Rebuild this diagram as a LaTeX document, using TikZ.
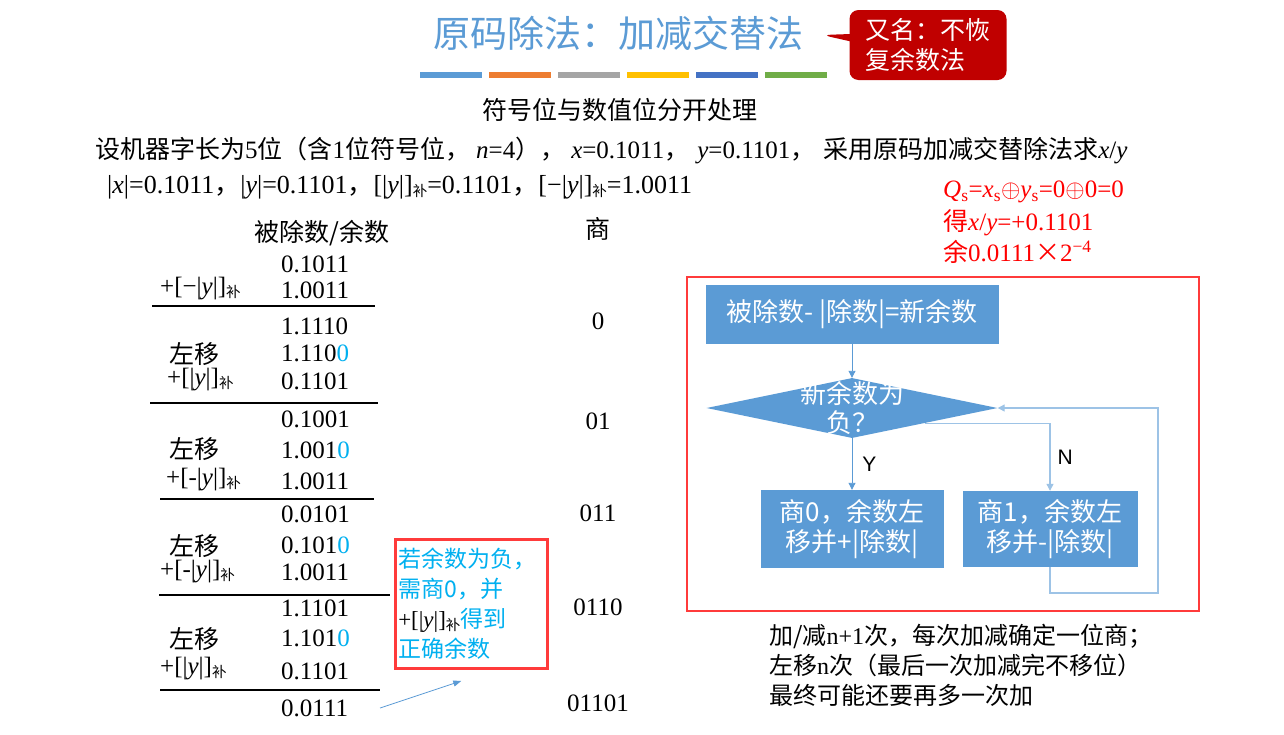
\documentclass[tikz,border=0pt]{standalone}
\usepackage{fontspec}
\setmainfont{Liberation Serif}
\newfontfamily\cjk{Noto Sans CJK SC}
\newfontfamily\lsans{Liberation Sans}
\usetikzlibrary{arrows.meta,shapes.geometric,shapes.callouts,calc}
\definecolor{tblue}{HTML}{5B9BD5}
\definecolor{torange}{HTML}{ED7D31}
\definecolor{tgray}{HTML}{A5A5A5}
\definecolor{tgold}{HTML}{FFC000}
\definecolor{tdblue}{HTML}{4472C4}
\definecolor{tgreen}{HTML}{70AD47}
\definecolor{dred}{HTML}{C00000}
\definecolor{fred}{HTML}{FF3B3B}
\definecolor{cyanb}{HTML}{00B0F0}
\definecolor{lblue}{HTML}{9DC3E6}
\newcommand\zh[1]{{\cjk #1}}
\newcommand\bux{\raisebox{-3pt}[0pt][0pt]{\cjk\fontsize{14.5}{14.5}\selectfont 补}}
\newcommand\bz{\textcolor{cyanb}{0}}
\begin{document}
\begin{tikzpicture}[x=1pt,y=-1pt,
 txt/.style={inner sep=0pt, font=\fontsize{25}{30}\selectfont},
 num/.style={txt, anchor=west},
 lab/.style={txt, anchor=west},
 zhtxt/.style={inner sep=0pt, font=\cjk\fontsize{25}{30}\selectfont},
 flowbox/.style={fill=tblue, text=white, inner sep=0pt, font=\cjk\fontsize{26}{30}\selectfont, align=center},
 flowtxt/.style={text=white, inner sep=0pt, font=\cjk\fontsize{26}{29}\selectfont, align=center},
 conn/.style={draw=tblue, line width=0.9pt, -{Triangle[width=7pt,length=7pt]}},
 loopc/.style={draw=lblue, line width=1.2pt, -{Triangle[width=7pt,length=7pt]}},
 yn/.style={inner sep=0pt, font=\lsans\fontsize{21}{21}\selectfont},
 rule/.style={line width=2.8pt},
]
\fill[white] (0,0) rectangle (1284,734);
\useasboundingbox (0,0) rectangle (1284,734);

% title
\node[inner sep=0pt, font=\cjk\fontsize{37}{40}\selectfont, text=tblue] (title) at (618,33) {原码除法：加减交替法};
\foreach \c [count=\i] in {tblue,torange,tgray,tgold,tdblue,tgreen}
  \fill[\c] ({420+(\i-1)*69},72) rectangle ++(62,6);
\node[rectangle callout, fill=dred, rounded corners=9pt, text=white,
  minimum width=157, minimum height=70, inner sep=0pt, align=left,
  font=\cjk\fontsize{25}{30}\selectfont,
  callout absolute pointer={(822,35)}] (alias) at (928,45) {又名：不恢\\复余数法};

% statement
\node[zhtxt] (sub) at (620,110) {符号位与数值位分开处理};
\node[lab] (cond) at (95,150) {\zh{设机器字长为}5\zh{位（含}1\zh{位符号位，}\hspace{6pt}\textit{n}=4\zh{），}\hspace{6pt}\textit{x}=0.1011\zh{，}\hspace{8pt}\textit{y}=0.1101\zh{，}\hspace{8pt}\zh{采用原码加减交替除法求}\textit{x}/\textit{y}};
\node[lab, font=\fontsize{26}{30}\selectfont] (absv) at (107,187) {|\textit{x}|=0.1011\zh{，}|\textit{y}|=0.1101\zh{，}[|\textit{y}|]\bux=0.1101\zh{，}[−|\textit{y}|]\bux=1.0011};

% result
\node[lab, text=red] (res1) at (943,192) {\textit{Q}\textsubscript{s}=\textit{x}\textsubscript{s}$\oplus$\textit{y}\textsubscript{s}=0$\oplus$0=0};
\node[lab, text=red] (res2) at (943,223) {\zh{得}\textit{x}/\textit{y}=+0.1101};
\node[lab, text=red] (res3) at (943,252) {\zh{余}0.0111\zh{×}2\textsuperscript{−4}};

% table headers
\node[zhtxt] (hd1) at (322,233) {被除数/余数};
\node[zhtxt] (hd2) at (598,229) {商};

% numbers
\node[num] (n1) at (281,264) {0.1011};
\node[num] (n2) at (281,290) {1.0011};
\node[num] (n3) at (281,326) {1.1110};
\node[num] (n4) at (281,353) {1.110\bz};
\node[num] (n5) at (281,381) {0.1101};
\node[num] (n6) at (281,419) {0.1001};
\node[num] (n7) at (281,450) {1.001\bz};
\node[num] (n8) at (281,481) {1.0011};
\node[num] (n9) at (281,514) {0.0101};
\node[num] (n10) at (281,545) {0.101\bz};
\node[num] (n11) at (281,572) {1.0011};
\node[num] (n12) at (281,608) {1.1101};
\node[num] (n13) at (281,638) {1.101\bz};
\node[num] (n14) at (281,671) {0.1101};
\node[num] (n15) at (281,708) {0.0111};

% labels
\node[lab] (l1) at (160,289) {+[−|\textit{y}|]\bux};
\node[zhtxt, anchor=west] (l2) at (169,354) {左移};
\node[lab] (l3) at (167,380) {+[|\textit{y}|]\bux};
\node[zhtxt, anchor=west] (l4) at (169,449) {左移};
\node[lab] (l5) at (166,480) {+[-|\textit{y}|]\bux};
\node[zhtxt, anchor=west] (l6) at (169,546) {左移};
\node[lab] (l7) at (160,572) {+[-|\textit{y}|]\bux};
\node[zhtxt, anchor=west] (l8) at (169,639) {左移};
\node[lab] (l9) at (160,669) {+[|\textit{y}|]\bux};

% rules
\draw[rule] (152,306) -- (375,306);
\draw[rule] (150,403) -- (378,403);
\draw[rule] (160,499) -- (374,499);
\draw[rule] (159,595) -- (390,595);
\draw[rule] (160,690) -- (380,690);

% quotients
\node[txt] (q1) at (598,321) {0};
\node[txt] (q2) at (598,421) {01};
\node[txt] (q3) at (598,513) {011};
\node[txt] (q4) at (598,607) {0110};
\node[txt] (q5) at (598,703) {01101};

% note
\node[draw=fred, line width=2.5pt, text width=146, inner xsep=3pt, inner ysep=9pt, align=left,
  text=cyanb, font=\fontsize{23}{30}\selectfont, anchor=north west] (note) at (394,538)
  {\zh{若余数为负，}\\\zh{需商0，并}\\{\color{black}+[|\textit{y}|]\bux}\zh{得到}\\\zh{正确余数}};
\coordinate (atail) at (380,708);
\draw[draw=tblue, line width=0.8pt, -{Triangle[width=6pt,length=8pt]}] (atail) -- ($(note.south)+(-10,11)$);

% flowchart
\node[draw=fred, line width=2.8pt, minimum width=512, minimum height=334, inner sep=0pt] (frame) at (943,444) {};
\node[flowbox, minimum width=293, minimum height=59] (b1) at (852,314) {被除数- |除数|=新余数};
\node[diamond, fill=tblue, minimum width=291, minimum height=60, inner sep=0pt] (dia) at (852,408) {};
\node[flowtxt] (diat) at (852,408) {新余数为\\负？};
\node[flowbox, minimum width=183, minimum height=78] (b2) at (852,529) {商0，余数左\\移并+|除数|};
\node[flowbox, minimum width=175, minimum height=76] (b3) at (1050,529) {商1，余数左\\移并-|除数|};
\draw[conn] (b1.south) -- (dia.north);
\draw[conn] (dia.south) -- node[yn, right=10pt] {Y} (b2.north);
\draw[loopc] (dia.south east) -| node[yn, pos=0.75, right=7pt] {N} (b3.north);
\coordinate (lc) at (1158,593);
\draw[loopc] (b3.south) |- (lc) |- (dia.east);

% summary
\node[lab, font=\fontsize{24}{30}\selectfont] (sum1) at (769,636) {\zh{加/减}n+1\zh{次，每次加减确定一位商；}};
\node[lab, font=\fontsize{24}{30}\selectfont] (sum2) at (769,665) {\zh{左移}n\zh{次（最后一次加减完不移位）}};
\node[lab, font=\fontsize{24}{30}\selectfont] (sum3) at (769,695) {\zh{最终可能还要再多一次加}};
\end{tikzpicture}
\end{document}
